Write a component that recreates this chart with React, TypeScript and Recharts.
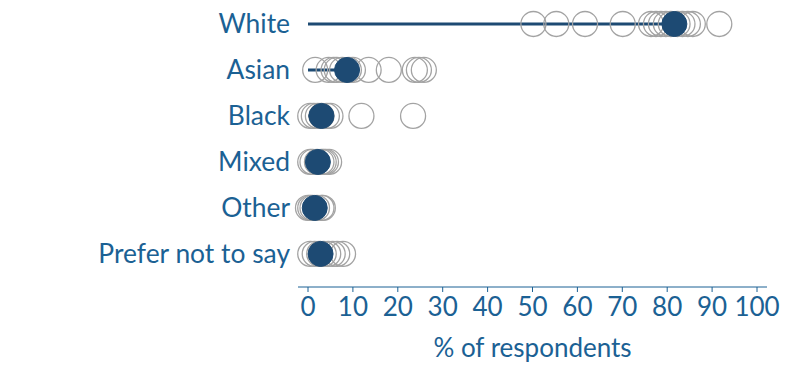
import React from "react";
import {
  ScatterChart,
  Scatter,
  XAxis,
  YAxis,
} from "recharts";

const categories = ["White", "Asian", "Black", "Mixed", "Other", "Prefer not to say"];

const whiteValues = [50.2, 55.3, 61.7, 70.1, 76.4, 77.5, 78.6, 79.7, 80.8, 82.3, 83.4, 84.6, 85.7, 91.6];
const asianValues = [1.6, 4.6, 5.7, 6.4, 7.6, 9.1, 10, 13.5, 18, 23.8, 24.7, 25.8];
const blackValues = [0.5, 1.3, 2.2, 3, 4.2, 5, 11.9, 23.4];
const mixedValues = [0.5, 1, 2, 3, 3.5, 4, 4.7];
const otherValues = [0, 0.5, 1, 2, 3, 3.3];
const preferValues = [0.5, 1.5, 2.5, 3.5, 4.5, 5.5, 6.5, 7.8];

const overall = [81.6, 8.7, 3.0, 2.2, 1.5, 2.8];

const xTicks = [0, 10, 20, 30, 40, 50, 60, 70, 80, 90, 100];

const BLUE = "#1b6194";
const DARK = "#1d4a73";
const GREY = "#a3a3a3";

const groups = [whiteValues, asianValues, blackValues, mixedValues, otherValues, preferValues];
const points = groups.flatMap((vals, i) => vals.map((v) => ({ x: v, y: i })));
const means = overall.map((v, i) => ({ x: v, y: i }));

const OpenDot = (props: any) => (
  <circle cx={props.cx} cy={props.cy} r={12.5} fill="none" stroke={GREY} strokeWidth={1.3} />
);
const FullDot = (props: any) => (
  <circle cx={props.cx} cy={props.cy} r={12.5} fill={DARK} stroke={DARK} strokeWidth={1} />
);
const NoDot = () => <g />;

export default function App() {
  return (
    <div style={{ position: "absolute", left: 0, top: 0, fontFamily: "Lato" }}>
      <ScatterChart
        width={800}
        height={378}
        margin={{ top: 1, right: 33, left: 0, bottom: 21 }}
      >
        <XAxis
          type="number"
          dataKey="x"
          domain={[0, 100]}
          ticks={xTicks}
          padding={{ left: 10, right: 10 }}
          stroke={BLUE}
          tickSize={5}
          tickMargin={6}
          tick={{ fill: BLUE, fontSize: 26, fontFamily: "Lato" }}
          height={70}
          label={{
            value: "% of respondents",
            position: "insideBottom",
            offset: 0,
            fill: BLUE,
            fontSize: 26,
            fontFamily: "Lato",
          }}
        />
        <YAxis
          type="number"
          dataKey="y"
          domain={[-0.5, 5.72]}
          ticks={[0, 1, 2, 3, 4, 5]}
          reversed
          width={298}
          axisLine={false}
          tickLine={false}
          tickFormatter={(i: number) => categories[i]}
          tick={{ fill: BLUE, fontSize: 26.4, fontFamily: "Lato" }}
        />
        {means.map((m, i) => (
          <Scatter
            key={"line" + i}
            data={[{ x: 0, y: m.y }, m]}
            line={{ stroke: DARK, strokeWidth: 3 }}
            shape={NoDot}
            isAnimationActive={false}
          />
        ))}
        <Scatter data={points} shape={OpenDot} isAnimationActive={false} />
        <Scatter data={means} shape={FullDot} isAnimationActive={false} />
      </ScatterChart>
    </div>
  );
}
